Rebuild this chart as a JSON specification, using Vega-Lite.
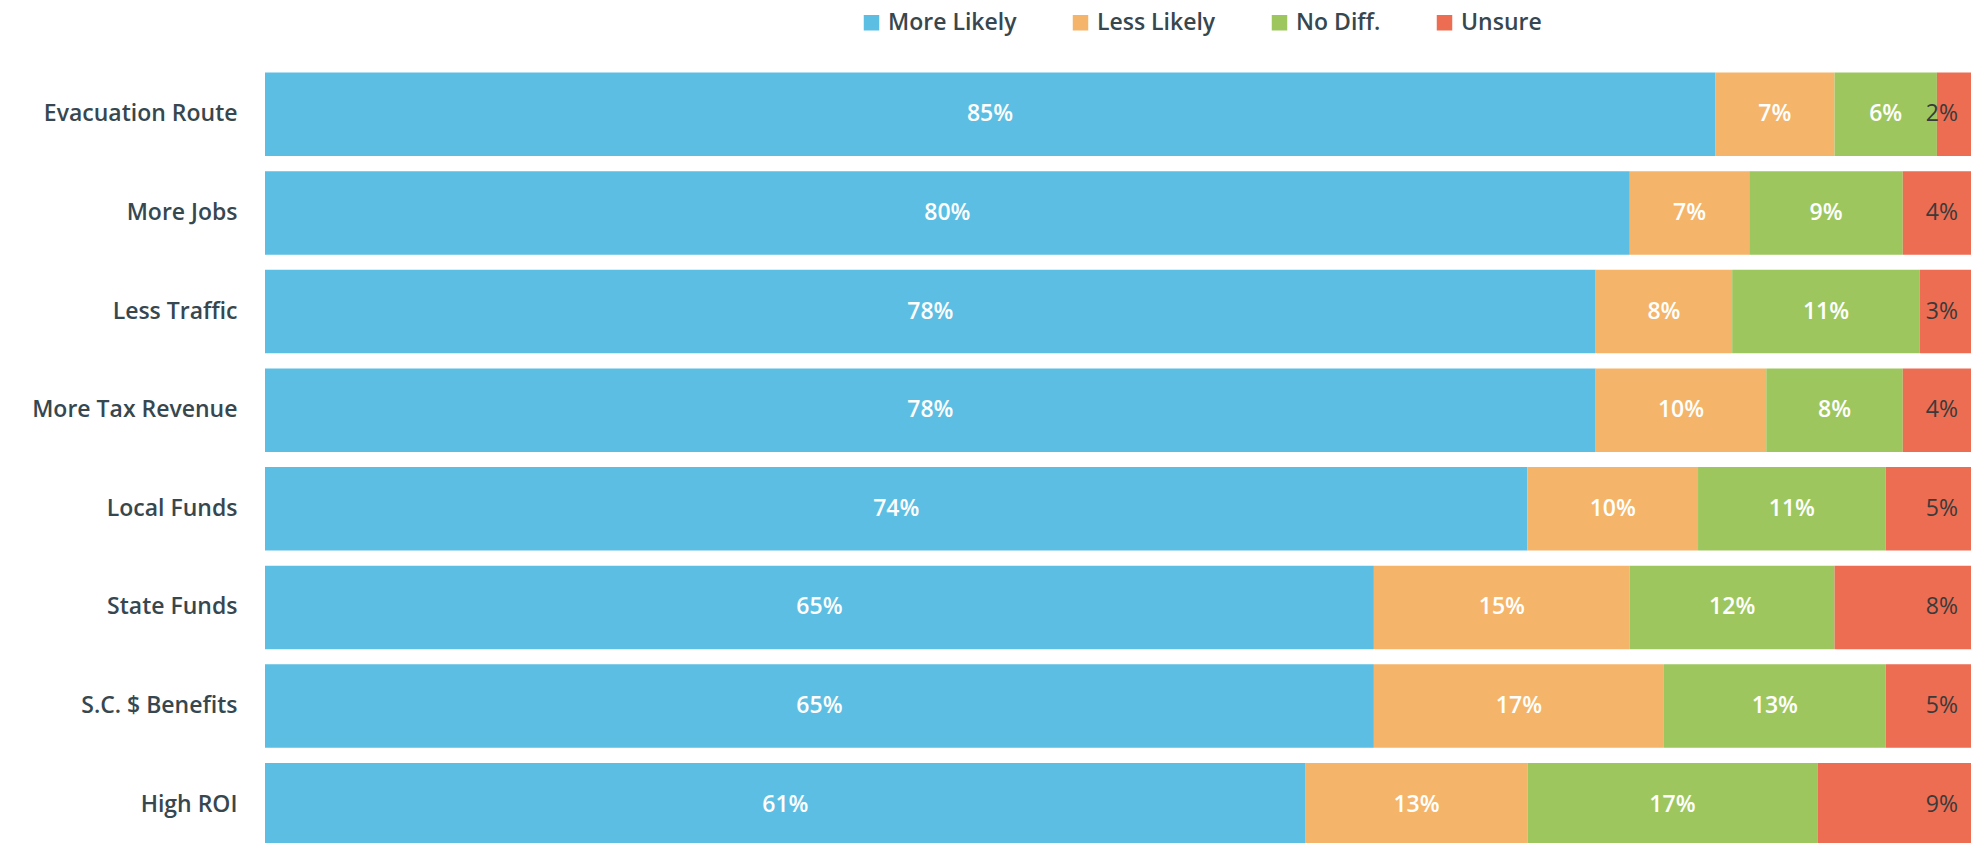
{
  "$schema": "https://vega.github.io/schema/vega-lite/v6.json",
  "width": 1706,
  "height": 789,
  "autosize": "none",
  "padding": {"left": 265, "top": 65, "right": 9, "bottom": 0},
  "background": "white",
  "config": {"view": {"stroke": null}, "font": "Open Sans"},
  "data": {
    "values": [
      {"cat": "Evacuation Route", "resp": "More Likely", "o": 1, "v": 85, "t": "85%"},
      {"cat": "Evacuation Route", "resp": "Less Likely", "o": 2, "v": 7, "t": "7%"},
      {"cat": "Evacuation Route", "resp": "No Diff.", "o": 3, "v": 6, "t": "6%"},
      {"cat": "Evacuation Route", "resp": "Unsure", "o": 4, "v": 2, "t": "2%"},
      {"cat": "More Jobs", "resp": "More Likely", "o": 1, "v": 80, "t": "80%"},
      {"cat": "More Jobs", "resp": "Less Likely", "o": 2, "v": 7, "t": "7%"},
      {"cat": "More Jobs", "resp": "No Diff.", "o": 3, "v": 9, "t": "9%"},
      {"cat": "More Jobs", "resp": "Unsure", "o": 4, "v": 4, "t": "4%"},
      {"cat": "Less Traffic", "resp": "More Likely", "o": 1, "v": 78, "t": "78%"},
      {"cat": "Less Traffic", "resp": "Less Likely", "o": 2, "v": 8, "t": "8%"},
      {"cat": "Less Traffic", "resp": "No Diff.", "o": 3, "v": 11, "t": "11%"},
      {"cat": "Less Traffic", "resp": "Unsure", "o": 4, "v": 3, "t": "3%"},
      {"cat": "More Tax Revenue", "resp": "More Likely", "o": 1, "v": 78, "t": "78%"},
      {"cat": "More Tax Revenue", "resp": "Less Likely", "o": 2, "v": 10, "t": "10%"},
      {"cat": "More Tax Revenue", "resp": "No Diff.", "o": 3, "v": 8, "t": "8%"},
      {"cat": "More Tax Revenue", "resp": "Unsure", "o": 4, "v": 4, "t": "4%"},
      {"cat": "Local Funds", "resp": "More Likely", "o": 1, "v": 74, "t": "74%"},
      {"cat": "Local Funds", "resp": "Less Likely", "o": 2, "v": 10, "t": "10%"},
      {"cat": "Local Funds", "resp": "No Diff.", "o": 3, "v": 11, "t": "11%"},
      {"cat": "Local Funds", "resp": "Unsure", "o": 4, "v": 5, "t": "5%"},
      {"cat": "State Funds", "resp": "More Likely", "o": 1, "v": 65, "t": "65%"},
      {"cat": "State Funds", "resp": "Less Likely", "o": 2, "v": 15, "t": "15%"},
      {"cat": "State Funds", "resp": "No Diff.", "o": 3, "v": 12, "t": "12%"},
      {"cat": "State Funds", "resp": "Unsure", "o": 4, "v": 8, "t": "8%"},
      {"cat": "S.C. $ Benefits", "resp": "More Likely", "o": 1, "v": 65, "t": "65%"},
      {"cat": "S.C. $ Benefits", "resp": "Less Likely", "o": 2, "v": 17, "t": "17%"},
      {"cat": "S.C. $ Benefits", "resp": "No Diff.", "o": 3, "v": 13, "t": "13%"},
      {"cat": "S.C. $ Benefits", "resp": "Unsure", "o": 4, "v": 5, "t": "5%"},
      {"cat": "High ROI", "resp": "More Likely", "o": 1, "v": 61, "t": "61%"},
      {"cat": "High ROI", "resp": "Less Likely", "o": 2, "v": 13, "t": "13%"},
      {"cat": "High ROI", "resp": "No Diff.", "o": 3, "v": 17, "t": "17%"},
      {"cat": "High ROI", "resp": "Unsure", "o": 4, "v": 9, "t": "9%"}
    ]
  },
  "transform": [
    {"stack": "v", "groupby": ["cat"], "sort": [{"field": "o"}], "as": ["v0", "v1"]},
    {"calculate": "(datum.v0 + datum.v1) / 2", "as": "mid"}
  ],
  "encoding": {
    "y": {
      "field": "cat",
      "type": "nominal",
      "sort": ["Evacuation Route", "More Jobs", "Less Traffic", "More Tax Revenue", "Local Funds", "State Funds", "S.C. $ Benefits", "High ROI"],
      "scale": {"paddingInner": 0.154, "paddingOuter": 0.077},
      "axis": {
        "title": null,
        "ticks": false,
        "domain": false,
        "labelPadding": 28,
        "labelFontSize": 23,
        "labelFontWeight": 600,
        "labelColor": "#37474f",
        "labelFont": "Open Sans",
        "labelLimit": 400
      }
    }
  },
  "layer": [
    {
      "mark": {"type": "bar"},
      "encoding": {
        "x": {"field": "v0", "type": "quantitative", "scale": {"domain": [0, 100], "nice": false}, "axis": null},
        "x2": {"field": "v1"},
        "color": {
          "field": "resp",
          "type": "nominal",
          "scale": {
            "domain": ["More Likely", "Less Likely", "No Diff.", "Unsure"],
            "range": ["#5cbee3", "#f4b56a", "#9dc75e", "#ec6d52"]
          },
          "legend": {
            "title": null,
            "orient": "none",
            "legendX": 595,
            "legendY": -54,
            "direction": "horizontal",
            "symbolType": "square",
            "symbolSize": 240,
            "symbolStrokeWidth": 0,
            "labelFontSize": 23,
            "labelFontWeight": 600,
            "labelColor": "#37474f",
            "labelFont": "Open Sans",
            "labelOffset": 5,
            "labelLimit": 300,
            "columnPadding": 52
          }
        }
      }
    },
    {
      "transform": [{"filter": "datum.resp !== 'Unsure'"}],
      "mark": {"type": "text", "color": "white", "fontWeight": 600, "fontSize": 23, "font": "Open Sans"},
      "encoding": {
        "x": {"field": "mid", "type": "quantitative"},
        "text": {"field": "t"}
      }
    },
    {
      "transform": [{"filter": "datum.resp === 'Unsure'"}],
      "mark": {"type": "text", "color": "#3a3a3a", "fontSize": 23, "align": "right", "dx": -13, "font": "Open Sans"},
      "encoding": {
        "x": {"field": "v1", "type": "quantitative"},
        "text": {"field": "t"}
      }
    }
  ]
}
